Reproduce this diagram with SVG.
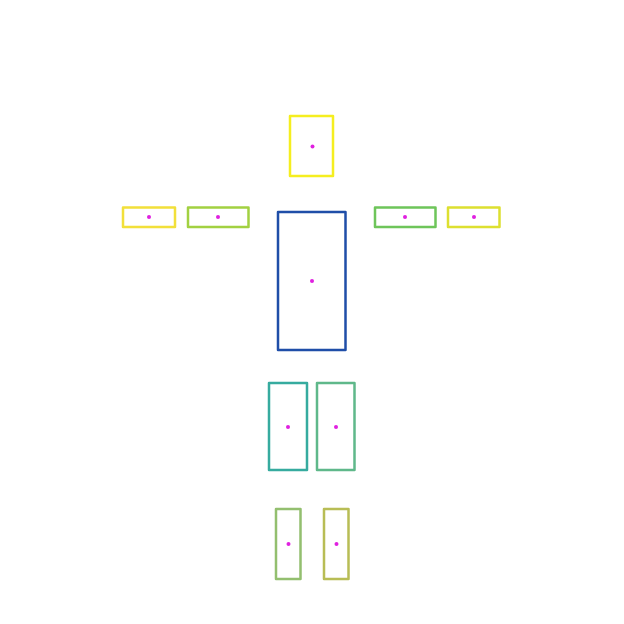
<svg xmlns="http://www.w3.org/2000/svg" width="624" height="624" viewBox="0 0 624 624">
<style>
.box{fill:none;stroke-width:2.5;stroke-linejoin:round}
.dot{fill:#e020e0}
</style>
<rect width="624" height="624" fill="#ffffff"/>
<g id="connectors"></g>
<g id="head"><rect class="box" x="290" y="116" width="43" height="60" stroke="#f5ee1f"/><circle class="dot" cx="312.5" cy="146.5" r="2"/></g>
<g id="torso"><rect class="box" x="278" y="212" width="67.5" height="138" stroke="#1f4ea8"/><circle class="dot" cx="312" cy="281" r="2"/></g>
<g id="left-hand"><rect class="box" x="123" y="207.5" width="52" height="19.5" stroke="#f2e03a"/><circle class="dot" cx="149" cy="217" r="2"/></g>
<g id="left-arm"><rect class="box" x="188" y="207.5" width="60.5" height="19.5" stroke="#a2d141"/><circle class="dot" cx="218" cy="217" r="2"/></g>
<g id="right-arm"><rect class="box" x="375" y="207.5" width="60.5" height="19.5" stroke="#6ec55a"/><circle class="dot" cx="405" cy="217" r="2"/></g>
<g id="right-hand"><rect class="box" x="448" y="207.5" width="51.5" height="19.5" stroke="#dde030"/><circle class="dot" cx="474" cy="217" r="2"/></g>
<g id="left-thigh"><rect class="box" x="269" y="383" width="38" height="87" stroke="#36ab9f"/><circle class="dot" cx="288" cy="427" r="2"/></g>
<g id="right-thigh"><rect class="box" x="317" y="383" width="37.5" height="87" stroke="#5fb88a"/><circle class="dot" cx="336" cy="427" r="2"/></g>
<g id="left-shin"><rect class="box" x="276" y="509" width="24.5" height="70" stroke="#93bf6f"/><circle class="dot" cx="288.5" cy="544" r="2"/></g>
<g id="right-shin"><rect class="box" x="324" y="509" width="24.5" height="70" stroke="#b8bd55"/><circle class="dot" cx="336.5" cy="544" r="2"/></g>
</svg>
